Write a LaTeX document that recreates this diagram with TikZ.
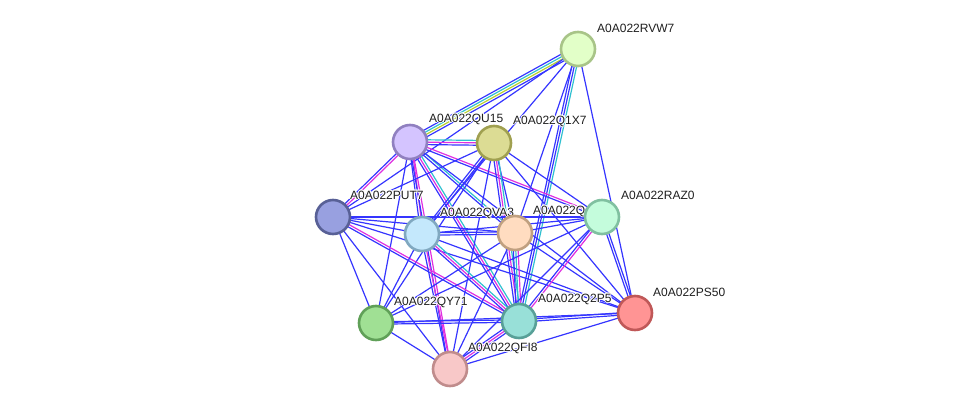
\documentclass[tikz,border=0pt]{standalone}
\usepackage{fontspec}
\setmainfont{Liberation Sans}
\usetikzlibrary{calc}
\pgfdeclarelayer{bg}
\pgfdeclarelayer{lab}
\pgfsetlayers{bg,lab,main}
\definecolor{eblue}{HTML}{3535FF}
\definecolor{emag}{HTML}{E030E0}
\definecolor{ecyan}{HTML}{30C0D0}
\definecolor{eyel}{HTML}{B8D030}
\tikzset{
  prot/.style={circle, line width=2.6pt, minimum size=34pt, inner sep=0pt},
  lbl/.style={anchor=west, inner sep=0pt, font=\fontsize{12}{14}\selectfont, text=black!88},
  halo/.style={lbl, text=white},
  edgeline/.style={line width=1.2pt},
}
\newcommand\eline[4]{\draw[edgeline,#4] ($(#1)!#3!90:(#2)$) -- ($(#2)!#3!-90:(#1)$);}
\newcommand\eb[2]{\eline{#1}{#2}{0pt}{eblue}}
\newcommand\etwo[4]{\eline{#1}{#2}{-1.2pt}{#3}\eline{#1}{#2}{1.2pt}{#4}}
\newcommand\ethree[5]{\eline{#1}{#2}{-2.4pt}{#3}\eline{#1}{#2}{0pt}{#4}\eline{#1}{#2}{2.4pt}{#5}}
% label with white halo: node name, owner node, dx, dy, text
\newcommand\plabel[5]{%
  \foreach \hx/\hy in {-1/0,1/0,0/-1,0/1,-0.7/-0.7,0.7/0.7,-0.7/0.7,0.7/-0.7}
    {\node[halo] at ($(#2)+(#3,#4)+(\hx,\hy)$) {#5};}
  \node[lbl] (#1) at ($(#2)+(#3,#4)$) {#5};}
\begin{document}
\begin{tikzpicture}[x=1pt,y=-1pt]
\useasboundingbox (0,0) rectangle (975,415);
% nodes
\node[prot, fill={rgb,255:red,226;green,255;blue,200}, draw={rgb,255:red,168;green,196;blue,136}] (RVW7) at (578,49) {};
\node[prot, fill={rgb,255:red,212;green,196;blue,255}, draw={rgb,255:red,144;green,128;blue,192}] (QU15) at (410,142) {};
\node[prot, fill={rgb,255:red,220;green,220;blue,148}, draw={rgb,255:red,160;green,160;blue,80}] (Q1X7) at (494,143) {};
\node[prot, fill={rgb,255:red,152;green,160;blue,224}, draw={rgb,255:red,88;green,96;blue,150}] (PUT7) at (333,217) {};
\node[prot, fill={rgb,255:red,196;green,232;blue,252}, draw={rgb,255:red,128;green,168;blue,192}] (QVA3) at (422,234) {};
\node[prot, fill={rgb,255:red,255;green,220;blue,192}, draw={rgb,255:red,192;green,160;blue,128}] (Q) at (515,233) {};
\node[prot, fill={rgb,255:red,196;green,252;blue,220}, draw={rgb,255:red,128;green,192;blue,160}] (RAZ0) at (602,217) {};
\node[prot, fill={rgb,255:red,255;green,148;blue,148}, draw={rgb,255:red,192;green,88;blue,88}] (PS50) at (635,313) {};
\node[prot, fill={rgb,255:red,160;green,224;blue,148}, draw={rgb,255:red,96;green,160;blue,88}] (QY71) at (376,323) {};
\node[prot, fill={rgb,255:red,152;green,224;blue,216}, draw={rgb,255:red,88;green,160;blue,152}] (Q2P5) at (519,321) {};
\node[prot, fill={rgb,255:red,248;green,200;blue,200}, draw={rgb,255:red,192;green,140;blue,140}] (QFI8) at (450,369) {};
% labels
\begin{pgfonlayer}{lab}
\plabel{RVW7l}{RVW7}{19}{-21}{A0A022RVW7}
\plabel{QU15l}{QU15}{19}{-23}{A0A022QU15}
\plabel{Q1X7l}{Q1X7}{19}{-22}{A0A022Q1X7}
\plabel{PUT7l}{PUT7}{17}{-22}{A0A022PUT7}
\plabel{QVA3l}{QVA3}{18}{-21}{A0A022QVA3}
\plabel{Ql}{Q}{18}{-22}{A0A022Q}
\plabel{RAZ0l}{RAZ0}{19}{-22}{A0A022RAZ0}
\plabel{PS50l}{PS50}{18}{-21}{A0A022PS50}
\plabel{QY71l}{QY71}{18}{-21}{A0A022QY71}
\plabel{Q2P5l}{Q2P5}{19}{-22}{A0A022Q2P5}
\plabel{QFI8l}{QFI8}{18}{-21}{A0A022QFI8}
\end{pgfonlayer}
% edges
\begin{pgfonlayer}{bg}
% RVW7
\eline{RVW7}{QU15}{-3.6pt}{eblue}\eline{RVW7}{QU15}{-1.2pt}{ecyan}\eline{RVW7}{QU15}{1.2pt}{eyel}\eline{RVW7}{QU15}{3.6pt}{eblue}
\eb{RVW7}{PUT7}
\eb{RVW7}{QVA3}
\eb{RVW7}{Q}
\ethree{RVW7}{Q2P5}{eblue}{eblue}{ecyan}
\eb{RVW7}{PS50}
% QU15
\ethree{QU15}{Q1X7}{eblue}{emag}{ecyan}
\etwo{QU15}{PUT7}{eblue}{emag}
\etwo{QU15}{QVA3}{eblue}{emag}
\etwo{QU15}{Q}{eblue}{ecyan}
\ethree{QU15}{Q2P5}{eblue}{emag}{ecyan}
\etwo{QU15}{RAZ0}{eblue}{emag}
\eb{QU15}{QY71}
\etwo{QU15}{QFI8}{eblue}{emag}
\eb{QU15}{PS50}
% Q1X7
\eb{Q1X7}{PUT7}
\etwo{Q1X7}{QVA3}{eblue}{eblue}
\eb{Q1X7}{Q}
\ethree{Q1X7}{Q2P5}{eblue}{emag}{ecyan}
\eb{Q1X7}{QY71}
\eb{Q1X7}{QFI8}
\eb{Q1X7}{RAZ0}
\eb{Q1X7}{PS50}
% PUT7
\eb{PUT7}{QVA3}
\eb{PUT7}{Q}
\etwo{PUT7}{Q2P5}{eblue}{emag}
\eb{PUT7}{QY71}
\eb{PUT7}{QFI8}
\eb{PUT7}{PS50}
\eb{PUT7}{RAZ0}
% QVA3
\etwo{QVA3}{Q}{eblue}{eblue}
\eb{QVA3}{RAZ0}
\ethree{QVA3}{Q2P5}{eblue}{emag}{ecyan}
\eb{QVA3}{QY71}
\etwo{QVA3}{QFI8}{eblue}{emag}
\eb{QVA3}{PS50}
% Q
\eb{Q}{RAZ0}
\ethree{Q}{Q2P5}{eblue}{ecyan}{emag}
\eb{Q}{QY71}
\eb{Q}{QFI8}
\eb{Q}{PS50}
% RAZ0
\etwo{RAZ0}{Q2P5}{eblue}{emag}
\eb{RAZ0}{QY71}
\eb{RAZ0}{QFI8}
\etwo{RAZ0}{PS50}{eblue}{eblue}
% QY71
\etwo{QY71}{Q2P5}{eblue}{eblue}
\eb{QY71}{QFI8}
\eb{QY71}{PS50}
% Q2P5
\ethree{Q2P5}{QFI8}{eblue}{emag}{eblue}
\etwo{Q2P5}{PS50}{eblue}{eblue}
% QFI8
\eb{QFI8}{PS50}
\end{pgfonlayer}
\end{tikzpicture}
\end{document}
